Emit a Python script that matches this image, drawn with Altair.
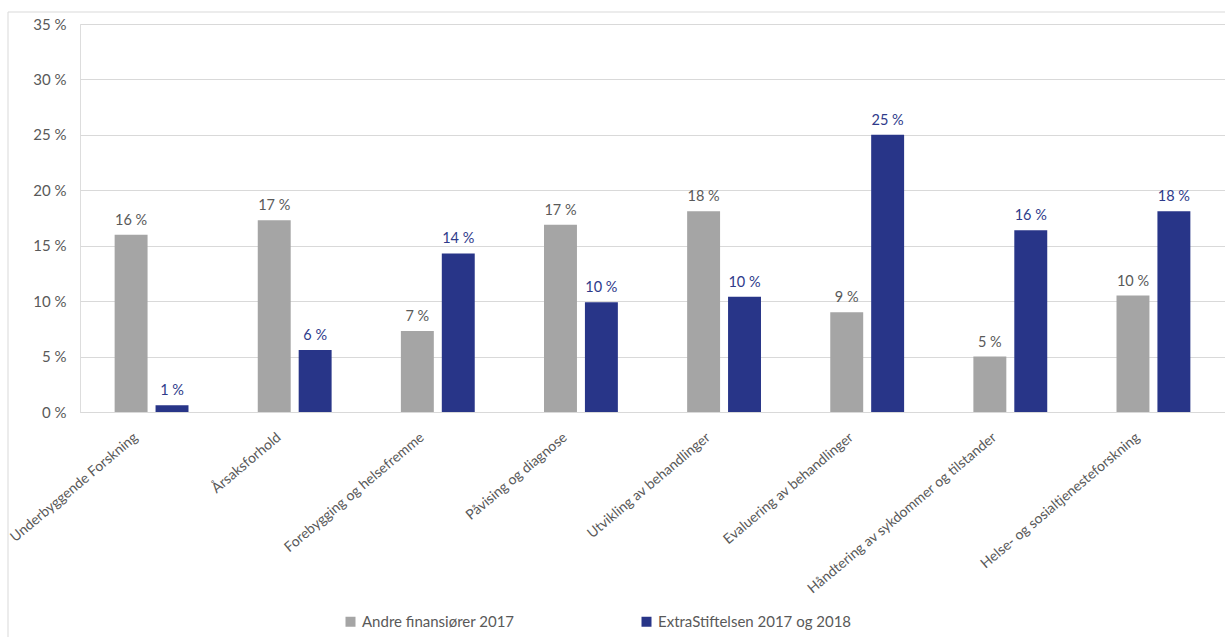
import altair as alt
import pandas as pd

categories = [
    "Underbyggende Forskning",
    "Årsaksforhold",
    "Forebygging og helsefremme",
    "Påvising og diagnose",
    "Utvikling av behandlinger",
    "Evaluering av behandlinger",
    "Håndtering av sykdommer og tilstander",
    "Helse- og sosialtjenesteforskning",
]
series = ["Andre finansiører 2017", "ExtraStiftelsen 2017 og 2018"]
andre = [16.0, 17.3, 7.3, 16.9, 18.1, 9.0, 5.0, 10.5]
extra = [0.6, 5.6, 14.3, 9.9, 10.4, 25.0, 16.4, 18.1]
andre_labels = ["16 %", "17 %", "7 %", "17 %", "18 %", "9 %", "5 %", "10 %"]
extra_labels = ["1 %", "6 %", "14 %", "10 %", "10 %", "25 %", "16 %", "18 %"]

rows = []
for c, v, l in zip(categories, andre, andre_labels):
    rows.append({"kategori": c, "serie": series[0], "verdi": v, "etikett": l})
for c, v, l in zip(categories, extra, extra_labels):
    rows.append({"kategori": c, "serie": series[1], "verdi": v, "etikett": l})
df = pd.DataFrame(rows)

GREY = "#A5A5A5"
BLUE = "#283588"
TEXT = "#595959"
GRID = "#D9D9D9"
FONT = "Lato"

W, H = 1145, 388
LEFT, TOP = 80, 24

x_enc = alt.X(
    "kategori:N",
    sort=categories,
    scale=alt.Scale(paddingInner=0.484, paddingOuter=0.242),
    axis=alt.Axis(
        title=None,
        labelAngle=-40,
        labelAlign="right",
        labelBaseline="top",
        labelFontSize=14,
        labelColor=TEXT,
        labelFont=FONT,
        labelPadding=18,
        labelOffset=-20,
        labelLimit=400,
        ticks=False,
        domainColor=GRID,
        grid=False,
    ),
)
xoff = alt.XOffset(
    "serie:N",
    sort=series,
    scale=alt.Scale(domain=series, paddingInner=0.195, paddingOuter=0),
)
y_enc = alt.Y(
    "verdi:Q",
    scale=alt.Scale(domain=[0, 35]),
    axis=alt.Axis(
        title=None,
        values=[0, 5, 10, 15, 20, 25, 30, 35],
        labelExpr="datum.value + ' %'",
        labelFontSize=15,
        labelColor=TEXT,
        labelFont=FONT,
        labelPadding=14,
        ticks=False,
        domain=False,
        gridColor=GRID,
        gridWidth=1,
    ),
)

base = alt.Chart(df)

bars = base.mark_bar().encode(
    x=x_enc,
    xOffset=xoff,
    y=y_enc,
    color=alt.Color(
        "serie:N",
        sort=series,
        scale=alt.Scale(domain=series, range=[GREY, BLUE]),
        legend=alt.Legend(
            title=None,
            orient="none",
            direction="horizontal",
            legendX=263,
            legendY=590,
            symbolType="square",
            symbolSize=100,
            symbolStrokeWidth=0,
            labelFontSize=15,
            labelColor=TEXT,
            labelFont=FONT,
            labelLimit=400,
            columnPadding=124,
        ),
    ),
)

labels_grey = base.transform_filter(alt.datum.serie == series[0]).mark_text(
    baseline="alphabetic", dy=-10, fontSize=14.5, font=FONT, color=TEXT
).encode(x=x_enc, xOffset=xoff, y=y_enc, text="etikett:N")

labels_blue = base.transform_filter(alt.datum.serie == series[1]).mark_text(
    baseline="alphabetic", dy=-10, fontSize=14.5, font=FONT, color="#2E3A8A"
).encode(x=x_enc, xOffset=xoff, y=y_enc, text="etikett:N")

frame = alt.Chart(pd.DataFrame({"a": [0]})).mark_rect(
    fill=None, fillOpacity=0, stroke=GRID, strokeWidth=1
).encode(
    x=alt.value(-72), x2=alt.value(W + 10), y=alt.value(-12), y2=alt.value(H + 260)
)

chart = (
    alt.layer(frame, bars, labels_grey, labels_blue)
    .properties(
        width=W,
        height=H,
        autosize=alt.AutoSizeParams(type="none"),
        padding={"left": LEFT, "top": TOP, "right": 0, "bottom": 637 - TOP - H},
    )
    .configure_view(stroke=None)
    .configure(background="white")
)

chart.save("out.html", embed_options={"renderer": "svg", "actions": False})
